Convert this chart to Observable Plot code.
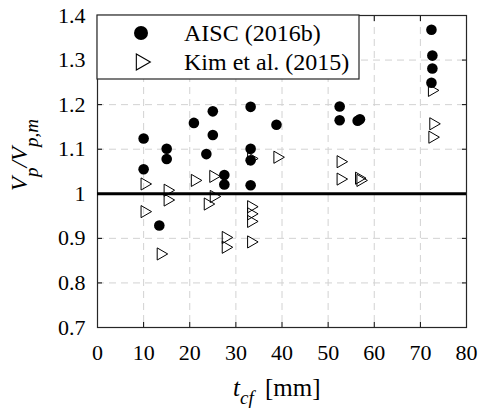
<!DOCTYPE html>
<html><head><meta charset="utf-8">
<script src="https://cdn.jsdelivr.net/npm/d3@7"></script>
<script src="https://cdn.jsdelivr.net/npm/@observablehq/plot@0.6"></script>
<style>
body{margin:0;background:#fff;}
#chart{width:478px;height:412px;}
#chart svg, #chart svg text{font-family:'Liberation Serif','Times New Roman',serif !important;}
</style></head><body><div id="chart"></div>
<script>
// AISC (2016b) series
const aiscT = [10, 10, 13.4, 15, 15, 20.9, 25, 25, 23.6, 27.5, 27.5, 33.2, 33.2, 33.2, 33.2, 38.8, 52.5, 52.5, 56.4, 56.9, 72.4, 72.6, 72.6, 72.4];
const aiscV = [1.124, 1.055, 0.929, 1.101, 1.078, 1.159, 1.185, 1.132, 1.089, 1.042, 1.021, 1.195, 1.101, 1.075, 1.019, 1.155, 1.196, 1.165, 1.164, 1.167, 1.368, 1.310, 1.281, 1.249];
// Kim et al. (2015) series
const kimT = [10.2, 10.2, 13.7, 15.2, 15.2, 21.1, 25.1, 23.9, 25.2, 27.8, 27.8, 33.3, 33.3, 33.3, 33.3, 33.3, 39, 52.7, 52.7, 56.7, 57.0, 72.5, 72.8, 72.6];
const kimV = [1.022, 0.960, 0.865, 1.008, 0.986, 1.030, 1.039, 0.977, 0.994, 0.902, 0.880, 1.079, 0.971, 0.955, 0.938, 0.892, 1.082, 1.072, 1.033, 1.035, 1.030, 1.232, 1.157, 1.127];

const xTicks = [0, 10, 20, 30, 40, 50, 60, 70, 80];
const yTicks = [0.7, 0.8, 0.9, 1.0, 1.1, 1.2, 1.3, 1.4];
const refLine = [1];
const legendLabels = ["AISC (2016b)", "Kim et al. (2015)"];

const aisc = aiscT.map((t, i) => ({t, v: aiscV[i]}));
const kim = kimT.map((t, i) => ({t, v: kimV[i]}));
const gx = xTicks.slice(1, -1), gy = yTicks.slice(1, -1);
const gridStyle = {stroke: "#d2d2d2", strokeOpacity: 1, strokeWidth: 1, strokeDasharray: "7,5"};
const blank = () => "";
const font = "'Liberation Serif', 'Times New Roman', serif";

const plot = Plot.plot({
  width: 478, height: 412,
  marginLeft: 97, marginRight: 12, marginTop: 15, marginBottom: 85,
  style: {fontFamily: font, fontSize: "22px", color: "#000", background: "#fff"},
  x: {domain: [0, 80]},
  y: {domain: [0.7, 1.4]},
  marks: [
    Plot.gridX(gx, gridStyle),
    Plot.gridY(gy, gridStyle),
    Plot.axisX(xTicks, {anchor: "bottom", tickSize: 0, tickPadding: 17, label: null}),
    Plot.axisX(xTicks, {anchor: "bottom", tickSize: -5, tickFormat: blank, label: null}),
    Plot.axisX(xTicks, {anchor: "top", tickSize: -5, tickFormat: blank, label: null}),
    Plot.axisY(yTicks, {anchor: "left", tickSize: 0, tickPadding: 12, tickFormat: d3.format("~g"), label: null}),
    Plot.axisY(yTicks, {anchor: "left", tickSize: -5, tickFormat: blank, label: null}),
    Plot.axisY(yTicks, {anchor: "right", tickSize: -5, tickFormat: blank, label: null}),
    Plot.frame({stroke: "#262626", strokeWidth: 1.2}),
    Plot.ruleY(refLine, {stroke: "#000", strokeWidth: 3}),
    Plot.dot(kim, {x: "t", y: "v", symbol: "triangle", rotate: 90, r: 4.5, stroke: "#000", strokeWidth: 1, fill: "none"}),
    Plot.dot(aisc, {x: "t", y: "v", symbol: "circle", r: 5.3, fill: "#000", stroke: "none"})
  ]
});
document.getElementById("chart").appendChild(plot);

const svg = d3.select(plot);
// legend
const lg = svg.append("g").attr("font-family", font).attr("font-size", 24).attr("text-anchor", "start");
lg.append("rect").attr("x", 97).attr("y", 15).attr("width", 262).attr("height", 64)
  .attr("fill", "#fff").attr("stroke", "#262626").attr("stroke-width", 1.2);
lg.append("circle").attr("cx", 141).attr("cy", 33).attr("r", 7).attr("fill", "#000");
lg.append("path").attr("d", d3.symbol(d3.symbolTriangle, Math.PI * 36)())
  .attr("transform", "translate(141,62) rotate(90)").attr("fill", "none").attr("stroke", "#000").attr("stroke-width", 1.1);
lg.append("text").attr("x", 184).attr("y", 41).text(legendLabels[0]);
lg.append("text").attr("x", 184).attr("y", 70).text(legendLabels[1]);

// x label
const xl = svg.append("text").attr("font-family", font).attr("font-size", 25).attr("text-anchor", "start").attr("y", 396);
xl.append("tspan").attr("x", 233).attr("font-style", "italic").text("t");
xl.append("tspan").attr("dy", 8).attr("font-size", 19).attr("font-style", "italic").text("cf");
xl.append("tspan").attr("x", 265).attr("dy", -8).text("[mm]");

// y label
const yl = svg.append("text").attr("font-family", font).attr("font-size", 23).attr("font-style", "italic")
  .attr("text-anchor", "start").attr("transform", "translate(27,191) rotate(-90)");
yl.append("tspan").text("V");
yl.append("tspan").attr("dy", 11).attr("font-size", 19).text("p");
yl.append("tspan").attr("dy", -11).text("/");
yl.append("tspan").text("V");
yl.append("tspan").attr("dy", 11).attr("font-size", 19).text("p,m");
</script></body></html>
